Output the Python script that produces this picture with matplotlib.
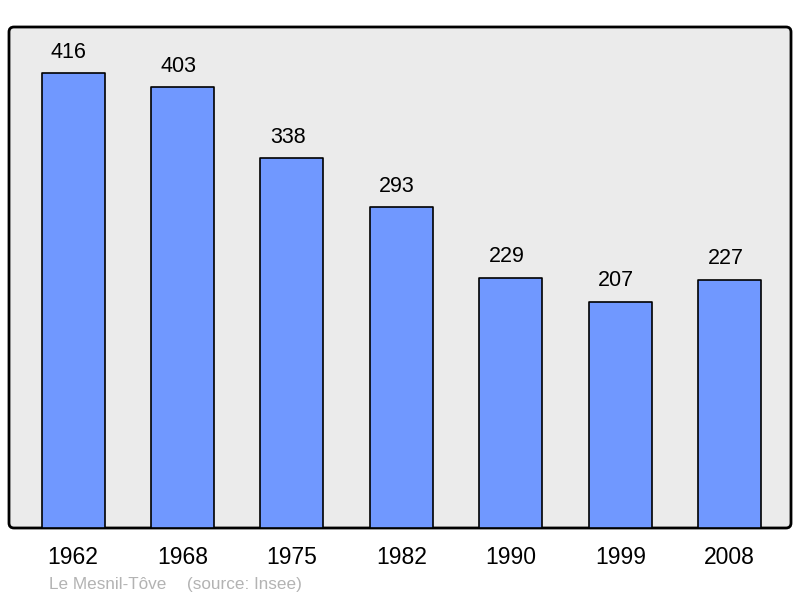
import matplotlib
matplotlib.use("Agg")
from matplotlib import pyplot as plt
from matplotlib.patches import FancyBboxPatch

years = ["1962", "1968", "1975", "1982", "1990", "1999", "2008"]
population = [416, 403, 338, 293, 229, 207, 227]
commune = "Le Mesnil-Tôve"
source = "(source: Insee)"

plt.rcParams["font.family"] = ["Liberation Sans", "DejaVu Sans"]

fig = plt.figure(figsize=(8, 5.98), dpi=100)
ax = fig.add_axes([9 / 800, 70 / 598, 782 / 800, 501 / 598])
ax.set_facecolor("none")
for s in ax.spines.values():
    s.set_visible(False)

# rounded frame behind the bars
frame = FancyBboxPatch((0.09, 0.70), 7.82, 5.01,
                       boxstyle="round,pad=0,rounding_size=0.05",
                       transform=fig.dpi_scale_trans,
                       facecolor="#ebebeb", edgecolor="black", linewidth=2,
                       zorder=0, clip_on=False)
ax.add_patch(frame)

x = range(len(years))
bars = ax.bar(x, population, width=0.576, color="#7098ff",
              edgecolor="black", linewidth=1.2, zorder=2)
for b in bars:
    b.set_joinstyle("round")

for xi, v in zip(x, population):
    ax.annotate(str(v), (xi, v), xytext=(-3, 11), textcoords="offset points",
                ha="center", va="baseline", fontsize=15.5, color="black")

ax.set_xlim(-0.585, 6.56)
ax.set_ylim(0, 458)
ax.set_xticks(list(x))
ax.set_xticklabels(years, fontsize=16.5)
ax.tick_params(axis="x", length=0, pad=13)
ax.set_yticks([])

fig.text(49 / 800, 1 - 589 / 598, commune, fontsize=12.3,
         color="#b3b3b3", va="baseline", ha="left")
fig.text(187 / 800, 1 - 589 / 598, source, fontsize=12.3,
         color="#b3b3b3", va="baseline", ha="left")

fig.savefig("out.png", dpi=100)
